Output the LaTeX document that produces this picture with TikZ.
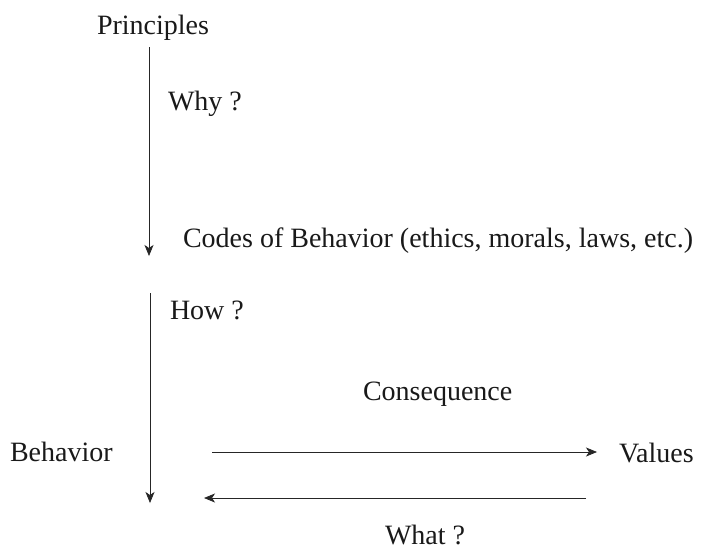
\documentclass[tikz,border=0pt]{standalone}
\usepackage{fontspec}
\setmainfont{Liberation Serif}
\usetikzlibrary{arrows.meta}
\begin{document}
\begin{tikzpicture}[x=1pt,y=-1pt,
  lbl/.style={anchor=base west,inner sep=0pt,outer sep=0pt,font=\fontsize{28}{32}\selectfont,text=black!90},
  flow/.style={draw=black!85,line width=0.8pt,-{Stealth[length=11pt,width=9pt,inset=3pt]}}]
\useasboundingbox[fill=white] (0,0) rectangle (704,550);

% labels
\node[lbl] (principles) at (97,34) {Principles};
\node[lbl] (why) at (168,110) {Why ?};
\node[lbl] (codes) at (183,247) {Codes of Behavior (ethics, morals, laws, etc.)};
\node[lbl] (how) at (170,319) {How ?};
\node[lbl] (consequence) at (363,400) {Consequence};
\node[lbl] (behavior) at (10,461) {Behavior};
\node[lbl] (values) at (619,462) {Values};
\node[lbl] (what) at (385,544) {What ?};

% arrow end points
\coordinate (a1s) at (149,47);
\coordinate (a1e) at (149,256);
\coordinate (a2s) at (150,293);
\coordinate (a2e) at (150,503);
\coordinate (rs) at (212,452);
\coordinate (re) at (597,452);
\coordinate (ls) at (586,498);
\coordinate (le) at (204,498);

% connectors
\draw[flow] (a1s) -- (a1e);
\draw[flow] (a2s) -- (a2e);
\draw[flow] (rs) -- (re);
\draw[flow] (ls) -- (le);
\end{tikzpicture}
\end{document}
